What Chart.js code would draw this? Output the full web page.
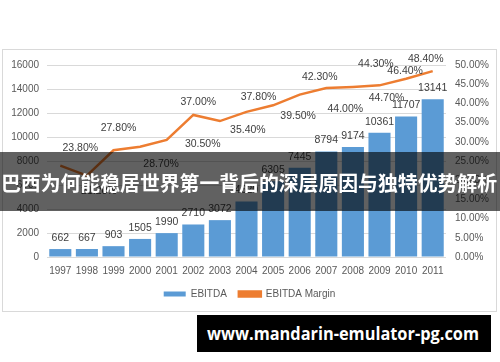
<!DOCTYPE html>
<html>
<head>
<meta charset="utf-8">
<script src="https://cdn.jsdelivr.net/npm/chart.js@4.4.1/dist/chart.umd.min.js"></script>
<style>
    body { margin: 0; width: 500px; height: 362px; background: #fff; position: relative; overflow: hidden; }
    #box { position: absolute; left: 2px; top: 49px; width: 493px; height: 261px; border: 1px solid #d9d9d9; }
    #banner {
        position: absolute; left: 0; top: 152px; width: 500px; height: 59px;
        background: rgba(0, 0, 0, 0.62); color: #fff; overflow: hidden;
        font: bold 20px "Noto Sans CJK SC", sans-serif; line-height: 62px; white-space: nowrap;
    }
    #mark {
        position: absolute; left: 197px; top: 315px; width: 294px; height: 37px;
        background: #000; color: #fff; overflow: hidden;
        font: bold 17px "Open Sans", sans-serif; line-height: 37px; white-space: nowrap;
    }
    .fit { display: inline-block; transform-origin: 0 50%; }
</style>
</head>
<body>
<div id="box"><canvas id="ebitdaChart"></canvas></div>
<div id="banner"><span class="fit" id="bannerText">巴西为何能稳居世界第一背后的深层原因与独特优势解析</span></div>
<div id="mark"><span class="fit" id="markText">www.mandarin-emulator-pg.com</span></div>
<script>
// values
const years = ['1997', '1998', '1999', '2000', '2001', '2002', '2003', '2004',
    '2005', '2006', '2007', '2008', '2009', '2010', '2011'];
const ebitda = [662, 667, 903, 1505, 1990, 2710, 3072, 4620, 6305, 7445, 8794, 9174, 10361, 11707, 13141];
const margin = [23.8, 21.2, 27.8, 28.7, 30.5, 37.0, 35.4, 37.8, 39.5, 42.3, 44.0, 44.3, 44.7, 46.4, 48.4];

// nudge of each margin label from its point (the Excel labels were dragged around)
const marginLabelNudge = [[20, -17], [12, 16], [5, -22], [21, 17], [36, 4], [5, -13], [28, 9], [12, -15],
    [25, 11], [20, -17], [19, 21], [23, -23], [7, 13], [-1, -8], [-7, -12]];

const FONT = '"Liberation Sans", Arial, sans-serif';

// squeeze overlay texts to the width they take in the picture
function fitText(id, left, width) {
    const el = document.getElementById(id);
    const w = el.getBoundingClientRect().width;
    el.style.transform = 'translateX(' + left + 'px) scaleX(' + (width / w) + ')';
}
fitText('bannerText', 1, 496);
fitText('markText', 10, 272);

// simple data label plugin (no datalabels plugin available)
const valueLabels = {
    id: 'valueLabels',
    afterDatasetsDraw(chart) {
        const ctx = chart.ctx;
        ctx.save();
        ctx.font = '10.5px ' + FONT;
        ctx.fillStyle = '#404040';
        ctx.textAlign = 'center';
        ctx.textBaseline = 'middle';
        chart.getDatasetMeta(0).data.forEach((bar, i) => {
            ctx.fillText(String(ebitda[i]), bar.x, bar.y - 11);
        });
        chart.getDatasetMeta(1).data.forEach((pt, i) => {
            const [dx, dy] = marginLabelNudge[i];
            ctx.fillText(margin[i].toFixed(2) + '%', pt.x + dx, pt.y + dy);
        });
        ctx.restore();
    }
};

new Chart(document.getElementById('ebitdaChart'), {
    type: 'bar',
    data: {
        labels: years,
        datasets: [{
            label: 'EBITDA',
            data: ebitda,
            backgroundColor: '#5B9BD5',
            yAxisID: 'y',
            categoryPercentage: 1,
            barPercentage: 0.83
        }, {
            type: 'line',
            label: 'EBITDA Margin',
            data: margin,
            borderColor: '#ED7D31',
            backgroundColor: '#ED7D31',
            borderWidth: 2.5,
            pointRadius: 0,
            tension: 0,
            yAxisID: 'y1'
        }]
    },
    options: {
        responsive: true,
        maintainAspectRatio: false,
        animation: false,
        layout: { padding: { top: 13, left: 0, right: 0, bottom: 2 } },
        plugins: {
            tooltip: { enabled: false },
            legend: {
                position: 'bottom',
                labels: {
                    boxWidth: 22,
                    boxHeight: 5,
                    padding: 12,
                    color: '#595959',
                    font: { family: FONT, size: 10 }
                }
            }
        },
        scales: {
            x: {
                grid: { display: false, drawTicks: false },
                border: { display: false },
                ticks: { color: '#595959', font: { family: FONT, size: 10 }, padding: 8, maxRotation: 0, autoSkip: false },
                afterFit: s => { s.height = 20; }
            },
            y: {
                position: 'left',
                min: 0,
                max: 16000,
                ticks: {
                    stepSize: 2000,
                    color: '#595959',
                    font: { family: FONT, size: 10 },
                    padding: 8,
                    callback: v => String(v)
                },
                grid: { color: '#d9d9d9', drawTicks: false },
                border: { display: false },
                afterFit: s => { s.width = 44; }
            },
            y1: {
                position: 'right',
                min: 0,
                max: 50,
                ticks: {
                    stepSize: 5,
                    color: '#595959',
                    font: { family: FONT, size: 10 },
                    padding: 9,
                    callback: v => v.toFixed(2) + '%'
                },
                grid: { display: false, drawTicks: false },
                border: { display: false },
                afterFit: s => { s.width = 50; }
            }
        }
    },
    plugins: [valueLabels]
});
</script>
</body>
</html>
